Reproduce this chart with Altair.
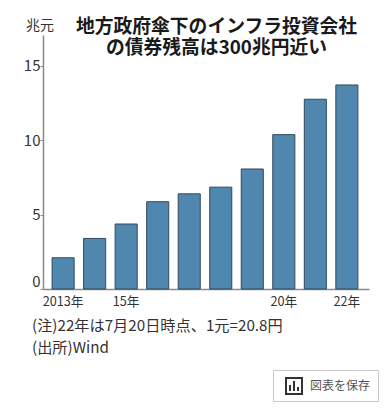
import altair as alt
import pandas as pd

FONT = "Noto Sans CJK JP"
categories = ["2013年", "14年", "15年", "16年", "17年", "18年", "19年", "20年", "21年", "22年"]
values = [2.1, 3.4, 4.37, 5.87, 6.4, 6.85, 8.07, 10.38, 12.76, 13.72]
x_ticks = ["2013年", "15年", "20年", "22年"]
y_ticks = [0, 5, 10, 15]
title_lines = ["地方政府傘下のインフラ投資会社", "の債券残高は300兆円近い"]
unit = "兆元"
notes = ["(注)22年は7月20日時点、1元=20.8円", "(出所)Wind"]
button_label = "図表を保存"

OX, OY = 43, 35
W, H = 326, 254
blank = alt.Data(values=[{"a": 1}])


def px(v):
    return alt.value(v - OX)


def py(v):
    return alt.value(v - OY)


def label(text, x, y, size, color="#222222", weight="normal", align="left", **kw):
    return alt.Chart(blank).mark_text(
        text=text, font=FONT, fontSize=size, color=color, fontWeight=weight,
        align=align, baseline="middle", **kw,
    ).encode(x=px(x), y=py(y))


def box(x0, x1, y0, y1, **kw):
    return alt.Chart(blank).mark_rect(**kw).encode(x=px(x0), x2=px(x1), y=py(y0), y2=py(y1))


df = pd.DataFrame({"cat": categories, "val": values})

bars = alt.Chart(df).mark_bar(
    color="#5087ae", stroke="#30495c", strokeWidth=1
).encode(
    x=alt.X(
        "cat:N", sort=categories, title=None,
        scale=alt.Scale(paddingInner=0.3, paddingOuter=0.32, align=0.45),
        axis=alt.Axis(
            values=x_ticks, labelAngle=0, ticks=False, grid=False,
            domainColor="#8a8a8a", domainWidth=1.5, labelFont=FONT, labelFontSize=12.7,
            labelColor="#333333", labelPadding=6,
        ),
    ),
    y=alt.Y(
        "val:Q", title=None,
        scale=alt.Scale(domain=[0, 17.08], nice=False),
        axis=alt.Axis(
            values=y_ticks, grid=False, tickSize=3, tickColor="#8a8a8a",
            domainColor="#8a8a8a", domainWidth=1.5, labelFont=FONT, labelFontSize=15,
            labelColor="#333333", labelPadding=0, labelFlush=True,
        ),
    ),
)

layers = [
    bars,
    label("\n".join(title_lines), 216.5, 27, 18.8, "#1a1a1a", "bold", "center",
          lineBreak="\n", lineHeight=20.5),
    label(unit, 40, 26, 14, "#333333", "normal", "center"),
    label(notes[0], 32, 326, 15.2, "#333333"),
    label(notes[1], 32, 348, 15.2, "#333333"),
    box(273.5, 378.5, 370.5, 401.5, fill="#ffffff", stroke="#c8c8c8", strokeWidth=1),
    box(286, 302, 378, 394, fill="#ffffff", stroke="#333333", strokeWidth=2),
    box(289, 291, 385, 391, fill="#333333"),
    box(293, 295, 381, 391, fill="#333333"),
    box(297, 299, 387, 391, fill="#333333"),
    label(button_label, 310, 386, 12, "#555555"),
]

chart = alt.layer(*layers).properties(
    width=W, height=H,
    autosize=alt.AutoSizeParams(type="none"),
    padding={"left": OX - 8, "top": OY - 8, "right": 11, "bottom": 113},
    background="#ffffff",
).configure_view(stroke=None)

chart.save("out.html", embed_options={"renderer": "svg", "actions": False})
